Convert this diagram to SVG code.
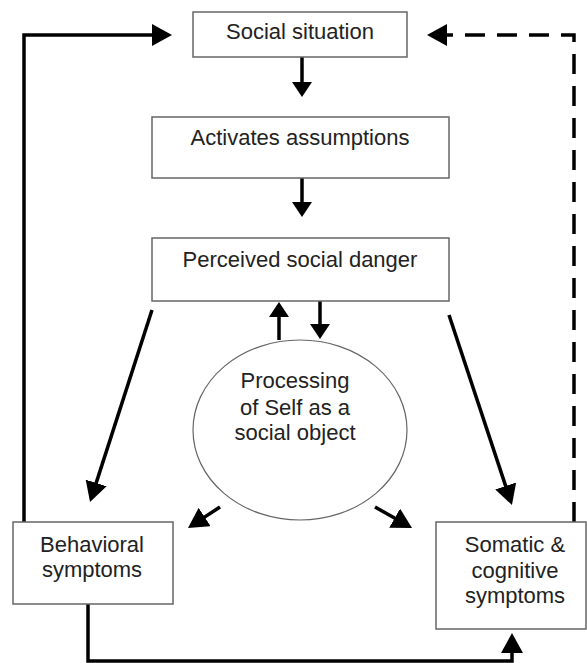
<svg xmlns="http://www.w3.org/2000/svg" width="587" height="663" viewBox="0 0 587 663">
<style>
.box{fill:#fff;stroke:#666;stroke-width:1.5}
.ell{fill:#fff;stroke:#666;stroke-width:1.2}
.t{font-family:"Liberation Sans",Arial,sans-serif;font-size:22px;fill:#222;text-anchor:middle}
.c{fill:none;stroke:#000;stroke-width:3.5}
.big{marker-end:url(#ah)}
.med{marker-end:url(#ahs)}
.dash{stroke-dasharray:20 12}
</style>
<defs>
<marker id="ah" viewBox="0 0 20 22" refX="8" refY="11" markerWidth="20" markerHeight="22" markerUnits="userSpaceOnUse" orient="auto"><path d="M0,0 L20,11 L0,22 z" fill="#000"/></marker>
<marker id="ahs" viewBox="0 0 15 20" refX="6" refY="10" markerWidth="15" markerHeight="20" markerUnits="userSpaceOnUse" orient="auto"><path d="M0,0 L15,10 L0,20 z" fill="#000"/></marker>
</defs>
<rect width="587" height="663" fill="#fff"/>
<g id="connectors">
<path class="c big" d="M24,522 V35 H160"/>
<path class="c dash big" d="M574,522 V35 H439"/>
<path class="c big" d="M88,604 V661 H512 V645"/>
<path class="c med" d="M302,57 V88"/>
<path class="c med" d="M302,178 V208"/>
<path class="c med" d="M279,340 V311"/>
<path class="c med" d="M320,301 V330"/>
<path class="c big" d="M152,310 L93.7,490.6"/>
<path class="c big" d="M449,315 L508.2,493.6"/>
<path class="c big" d="M220,507 L198,521.4"/>
<path class="c big" d="M375,507 L401.6,522.1"/>
</g>
<g id="social-situation">
<rect class="box" x="193" y="12" width="214" height="45"/>
<text class="t" x="300" y="39">Social situation</text>
</g>
<g id="activates-assumptions">
<rect class="box" x="152" y="117" width="297" height="61"/>
<text class="t" x="300" y="145">Activates assumptions</text>
</g>
<g id="perceived-social-danger">
<rect class="box" x="152" y="238" width="297" height="63"/>
<text class="t" x="300" y="267">Perceived social danger</text>
</g>
<g id="processing-self">
<ellipse class="ell" cx="300" cy="430" rx="107" ry="90"/>
<text class="t" x="295" y="388">Processing</text>
<text class="t" x="295" y="415">of Self as a</text>
<text class="t" x="295" y="440">social object</text>
</g>
<g id="behavioral-symptoms">
<rect class="box" x="13" y="522" width="160" height="82"/>
<text class="t" x="92" y="552">Behavioral</text>
<text class="t" x="92" y="577">symptoms</text>
</g>
<g id="somatic-cognitive-symptoms">
<rect class="box" x="436" y="522" width="150" height="107"/>
<text class="t" x="515" y="552">Somatic &amp;</text>
<text class="t" x="515" y="578">cognitive</text>
<text class="t" x="515" y="603">symptoms</text>
</g>
</svg>
